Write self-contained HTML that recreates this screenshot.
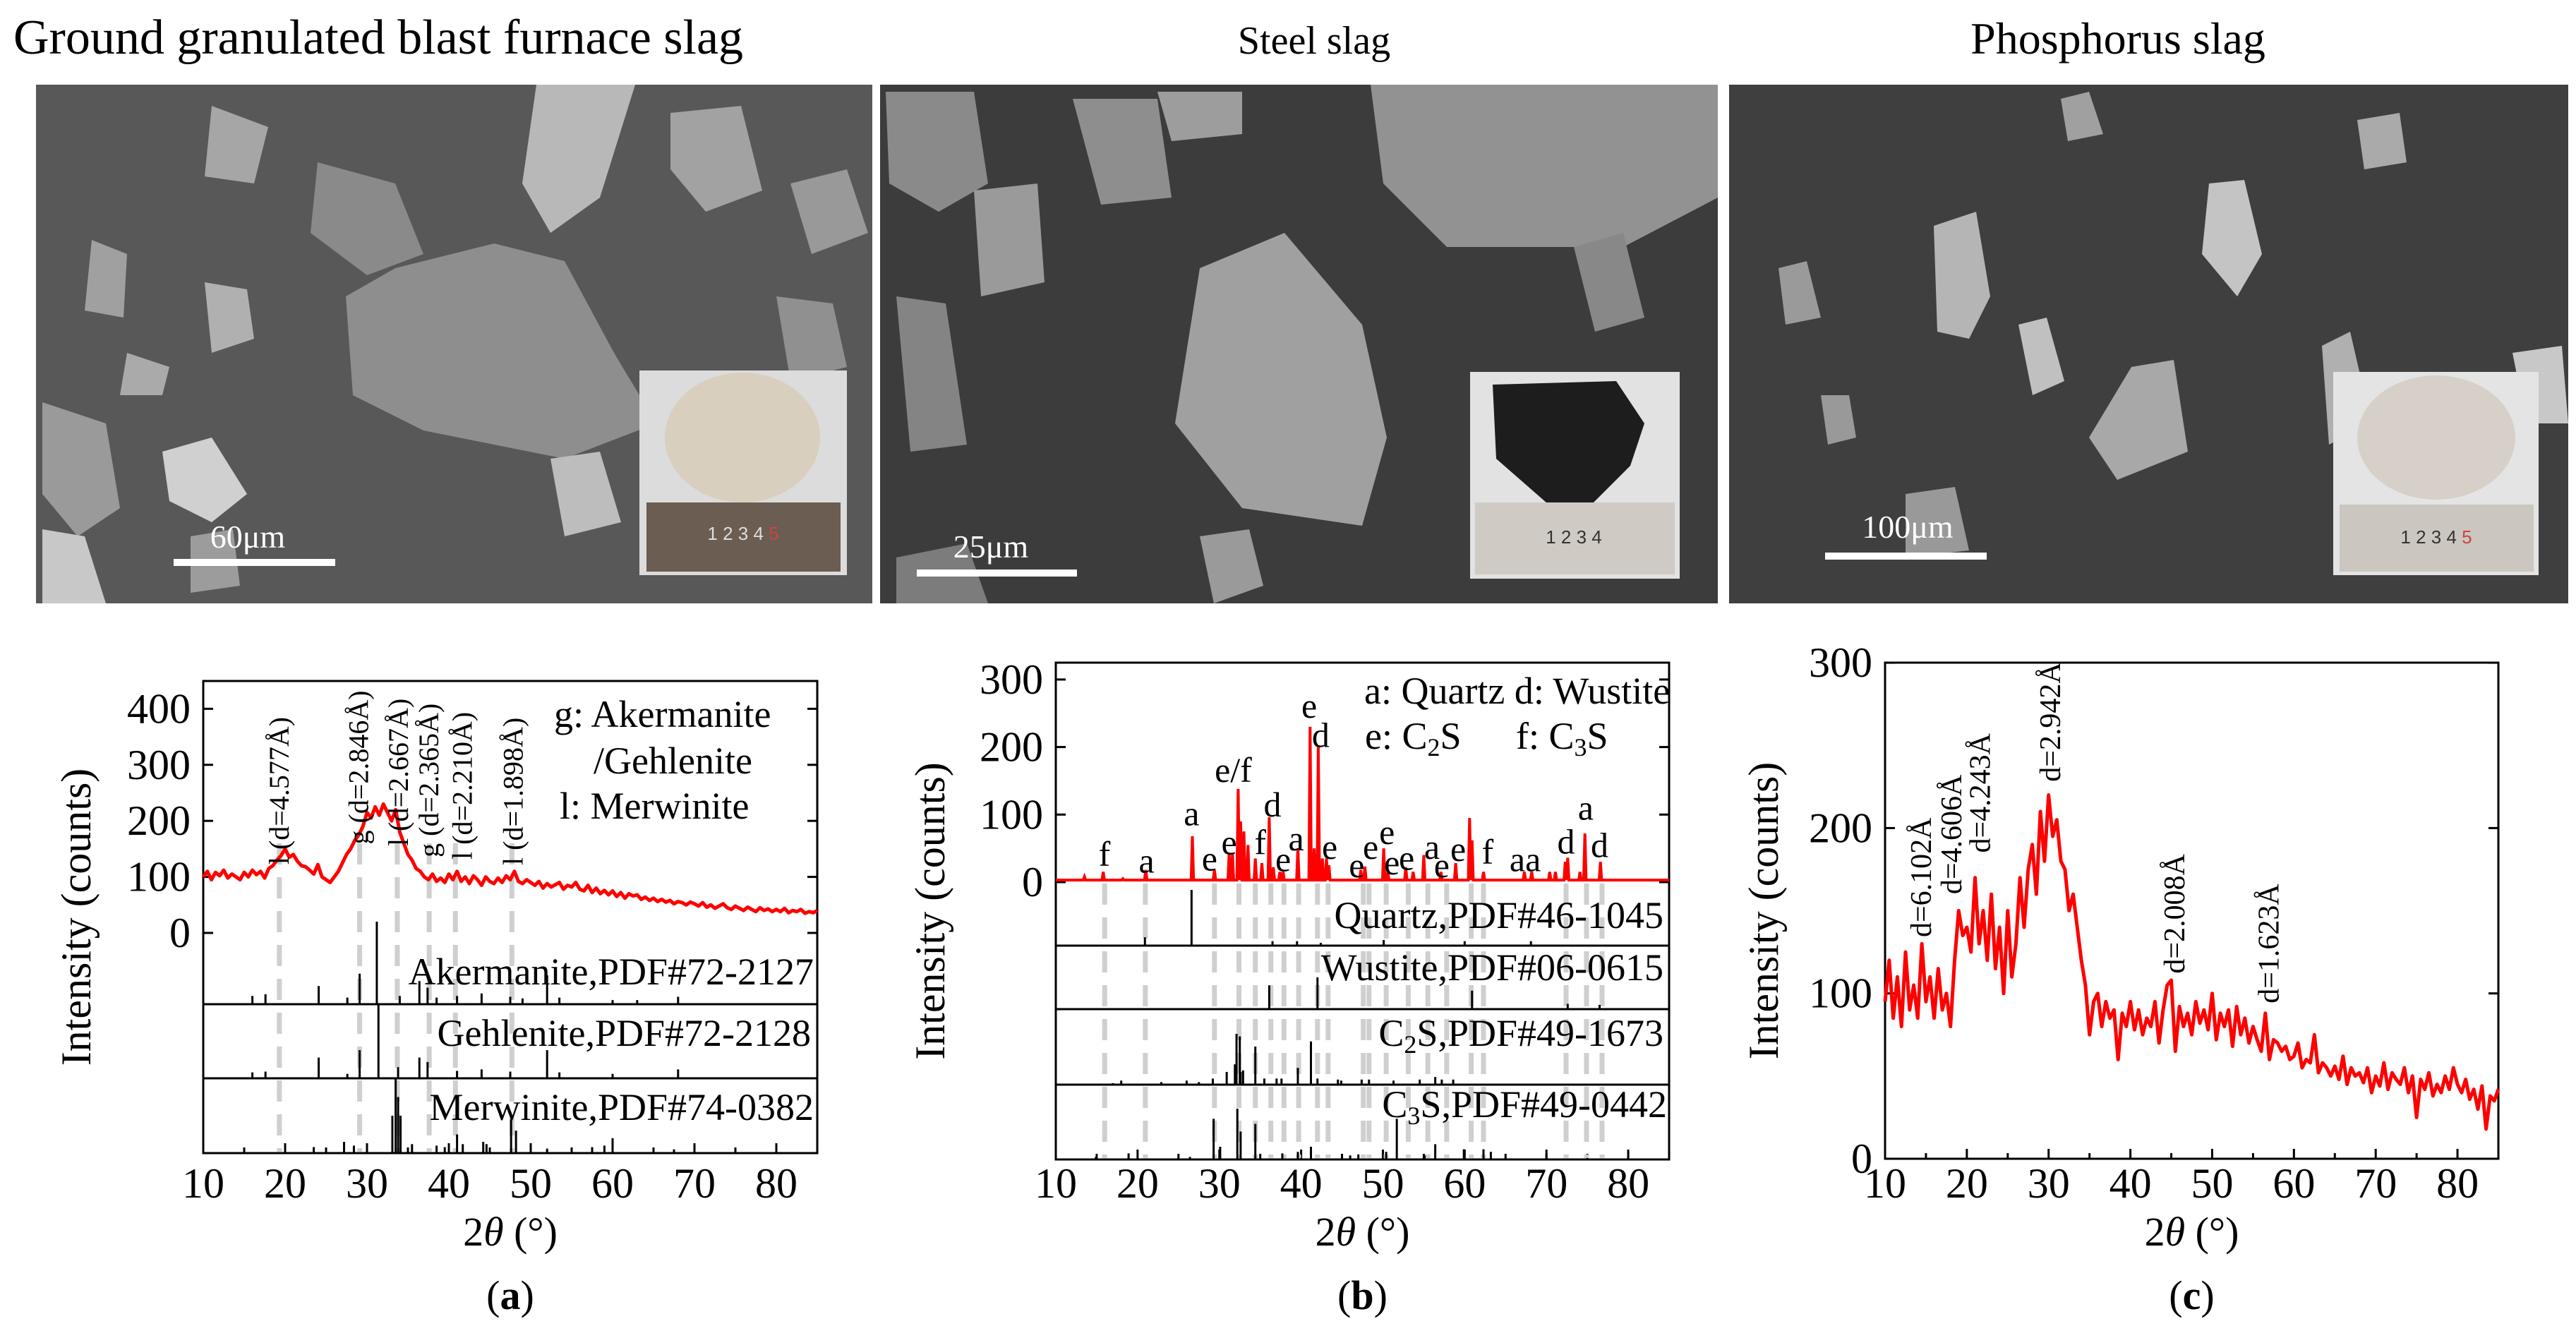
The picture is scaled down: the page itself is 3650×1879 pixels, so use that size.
<!DOCTYPE html>
<html><head><meta charset="utf-8"><style>
html,body{margin:0;padding:0;background:#fff;}
svg{display:block;font-family:"Liberation Serif",serif;}
</style></head><body>
<svg id="fig" width="3650" height="1879" viewBox="0 0 3650 1879" xmlns="http://www.w3.org/2000/svg">
<rect x="0" y="0" width="3650" height="1879" fill="#fff"/>
<!-- titles -->
<text x="536" y="76" font-size="70" text-anchor="middle">Ground granulated blast furnace slag</text>
<text x="1862" y="76" font-size="56" text-anchor="middle">Steel slag</text>
<text x="3001" y="76" font-size="64" text-anchor="middle">Phosphorus slag</text>

<!-- SEM panel 1 -->
<g>
<rect x="51" y="120" width="1185" height="735" fill="#585858"/>
<polygon points="560,380 700,345 800,370 870,500 930,600 800,650 600,610 500,560 490,420" fill="#8e8e8e"/>
<polygon points="760,120 900,120 850,280 780,330 740,260" fill="#b8b8b8"/>
<polygon points="450,230 560,260 600,360 520,390 440,330" fill="#8a8a8a"/>
<polygon points="300,150 380,180 360,260 290,250" fill="#a6a6a6"/>
<polygon points="130,340 180,360 175,450 120,440" fill="#a0a0a0"/>
<polygon points="290,400 350,410 360,480 300,500" fill="#b0b0b0"/>
<polygon points="60,570 150,600 170,720 110,760 60,700" fill="#9a9a9a"/>
<polygon points="60,750 120,760 150,855 60,855" fill="#c8c8c8"/>
<polygon points="230,640 300,620 350,700 300,740 240,710" fill="#d0d0d0"/>
<polygon points="950,160 1050,150 1080,270 1000,300 950,240" fill="#a2a2a2"/>
<polygon points="1120,260 1200,240 1230,330 1150,360" fill="#999"/>
<polygon points="780,650 850,640 880,740 800,760" fill="#bdbdbd"/>
<polygon points="1100,420 1180,430 1200,520 1120,540" fill="#909090"/>
<polygon points="180,500 240,520 230,560 170,560" fill="#aaa"/>
<polygon points="270,760 330,750 340,830 270,840" fill="#9c9c9c"/>
<rect x="906" y="525" width="294" height="290" fill="#dcdcdc"/>
<ellipse cx="1052" cy="620" rx="110" ry="92" fill="#d9cfbf"/>
<rect x="916" y="712" width="275" height="98" fill="#6b5d52"/>
<text x="1053" y="765" font-size="26" fill="#ddd" text-anchor="middle" font-family="Liberation Sans,sans-serif">1  2  3  4  <tspan fill="#c44">5</tspan></text>
<rect x="246" y="792" width="229" height="10" fill="#fff"/>
<text x="351" y="776" font-size="46" fill="#fff" text-anchor="middle">60μm</text>
</g>

<!-- SEM panel 2 -->
<g>
<rect x="1247" y="120" width="1187" height="735" fill="#3c3c3c"/>
<polygon points="1700,380 1820,330 1930,460 1965,620 1930,745 1760,720 1665,600" fill="#a0a0a0"/>
<polygon points="1942,120 2434,120 2434,280 2300,350 2050,350 1960,260" fill="#929292"/>
<polygon points="1255,130 1380,130 1400,260 1330,300 1260,260" fill="#8a8a8a"/>
<polygon points="1520,140 1640,140 1660,280 1560,290" fill="#8e8e8e"/>
<polygon points="1380,270 1470,260 1480,400 1390,420" fill="#9a9a9a"/>
<polygon points="1270,420 1340,430 1370,630 1290,640" fill="#848484"/>
<polygon points="1640,130 1760,130 1760,190 1660,200" fill="#9d9d9d"/>
<polygon points="2230,350 2300,330 2330,450 2260,470" fill="#888"/>
<polygon points="1270,790 1370,770 1400,855 1270,855" fill="#7c7c7c"/>
<polygon points="1700,760 1770,750 1790,830 1720,855" fill="#9a9a9a"/>
<rect x="2083" y="527" width="297" height="293" fill="#e2e2e2"/>
<polygon points="2115,545 2290,540 2330,600 2310,660 2250,720 2200,720 2120,650" fill="#1d1d1d"/>
<rect x="2090" y="712" width="283" height="102" fill="#cfcac4"/>
<text x="2230" y="770" font-size="26" fill="#333" text-anchor="middle" font-family="Liberation Sans,sans-serif">1  2  3  4</text>
<rect x="1299" y="807" width="227" height="10" fill="#fff"/>
<text x="1404" y="790" font-size="46" fill="#fff" text-anchor="middle">25μm</text>
</g>

<!-- SEM panel 3 -->
<g>
<rect x="2450" y="120" width="1189" height="735" fill="#3f3f3f"/>
<polygon points="2740,320 2800,300 2820,420 2790,480 2745,470" fill="#b5b5b5"/>
<polygon points="3130,260 3180,255 3205,360 3170,420 3120,360" fill="#c4c4c4"/>
<polygon points="2860,460 2900,450 2925,540 2880,560" fill="#c0c0c0"/>
<polygon points="3020,520 3080,510 3100,640 3000,680 2960,620" fill="#a8a8a8"/>
<polygon points="3290,490 3330,470 3360,600 3300,630" fill="#b0b0b0"/>
<polygon points="2520,380 2560,370 2580,450 2530,460" fill="#9a9a9a"/>
<polygon points="2700,700 2770,690 2790,780 2700,790" fill="#999"/>
<polygon points="2580,560 2620,560 2630,620 2590,630" fill="#999"/>
<polygon points="3340,170 3400,160 3410,230 3350,240" fill="#aaa"/>
<polygon points="3560,500 3630,490 3639,600 3580,600" fill="#c8c8c8"/>
<polygon points="2920,140 2960,130 2980,190 2930,200" fill="#a0a0a0"/>
<rect x="3306" y="527" width="291" height="288" fill="#e4e4e4"/>
<ellipse cx="3452" cy="620" rx="112" ry="88" fill="#d6d0c8"/>
<rect x="3315" y="715" width="275" height="95" fill="#cbc6c0"/>
<text x="3452" y="770" font-size="26" fill="#333" text-anchor="middle" font-family="Liberation Sans,sans-serif">1  2  3  4  <tspan fill="#c44">5</tspan></text>
<rect x="2586" y="783" width="229" height="10" fill="#fff"/>
<text x="2703" y="762" font-size="46" fill="#fff" text-anchor="middle">100μm</text>
</g>
<g id="charts"></g>
</svg>
<script>
// ---------- DATA ----------
const xrdA_start = 10, xrdA_step = 0.5;
const xrdA_counts = [100,110,95,108,102,112,98,105,100,95,
108,100,112,104,110,98,115,120,130,138,
150,135,140,128,120,118,112,105,122,100,
95,90,100,110,125,140,150,165,175,190,
215,205,225,210,230,215,200,220,180,160,
140,130,115,110,100,95,105,92,98,90,
105,95,110,92,100,88,102,95,85,100,
92,88,98,90,102,95,110,92,88,95,
90,85,92,80,88,82,86,90,78,85,
82,90,78,75,85,72,80,70,76,68,
75,65,72,62,70,66,68,60,64,58,
62,56,60,55,58,52,56,54,50,55,
52,48,54,46,50,44,48,52,45,42,
48,44,40,46,42,38,45,40,43,38,
42,38,44,36,40,38,42,35,38,36,40];
const xrdC_start = 10, xrdC_step = 0.5;
const xrdC_counts = [95,120,85,110,80,125,90,105,85,130,
95,110,85,115,90,100,80,120,150,135,
140,125,170,130,150,120,160,115,140,100,
150,110,130,170,140,175,190,160,210,180,
220,195,205,180,175,150,160,140,120,105,
75,95,100,80,95,85,90,60,88,80,
95,78,90,75,85,80,95,70,90,105,
108,65,92,80,88,75,95,82,90,78,
100,72,88,80,90,68,92,75,85,70,
80,72,65,88,60,72,70,65,68,60,
62,70,55,60,58,75,52,58,55,50,
56,48,62,45,55,50,52,46,55,40,
50,44,58,42,52,48,45,55,40,50,
25,48,42,52,38,45,40,50,42,55,
45,40,48,36,42,30,44,18,38,35,42];
const xrdB_peakPos = [13.5,15.8,18.2,21,26.7,29.4,31.2,31.6,32.3,32.6,33,33.5,34.4,35.2,36.1,36.6,37.4,37.8,39.6,41.1,41.6,42.1,42.6,43.1,43.4,47.3,47.8,50.1,50.6,52.8,53.7,55,57.1,58.9,60.6,60.9,62.3,67.3,68.2,70.4,71.1,72.3,72.6,74.1,74.7,76.6];
const xrdB_peakH   = [8,15,5,18,68,18,42,42,138,90,75,55,35,28,96,22,15,15,50,230,50,200,35,35,25,18,23,50,15,22,15,40,15,28,95,62,15,15,15,15,15,30,36,15,72,30];
const xrdB_baseline = 3;
const yTicksA = [0,100,200,300,400];
const yTicksB = [0,100,200,300];
const yTicksC = [0,100,200,300];
const xTicks = [10,20,30,40,50,60,70,80];
const akermPos = [16,17.6,24.1,27.6,29.1,31.2,34,36.4,37.4,38.5,41,44,47.5,49,52,53.5,60,63,68];
const akermH   = [10,12,22,8,37,100,10,28,20,8,10,13,9,7,35,8,5,5,9];
const gehlPos  = [16,17.6,24.1,27.6,29.1,31.4,33.8,36.4,37.4,41,44,47.5,52,53.5,60,68];
const gehlH    = [8,9,28,6,38,100,15,28,22,10,12,9,38,8,6,12];
const merwPos  = [23.5,27.2,28.4,33.1,33.5,33.8,34.1,35.5,38.5,39.5,41,41.7,44.2,44.6,47.6,48.2,52,57.5,59,60,67.5];
const merwH    = [8,15,10,50,100,75,50,12,10,8,25,12,15,12,45,30,6,8,10,20,5];
const quartzPos = [20.9,26.6,36.5,39.5,42.4,50.1,60,68.1];
const quartzH   = [15,100,8,8,5,10,8,8];
const wustPos = [36.1,42,60.9,72.6,76.5];
const wustH   = [45,60,35,10,8];
const c2sPos = [17,18,22.9,26,27.5,29.2,30.9,31.9,32.1,32.5,32.6,32.9,34.4,35.5,37,37.6,39.6,41.2,42,44.5,44.9,47.4,48.3,51.3,54.5,56.4,57.2,58.6];
const c2sH   = [3,8,5,8,5,12,25,40,100,95,25,28,75,12,12,12,33,85,12,10,8,10,10,8,10,15,10,10];
const c3sPos = [14.9,18.9,26.4,29.3,30.1,32.2,32.6,34.4,37.7,39.6,41.2,46,47,50.4,51.7,55.1,56.4,59.9,62.3,63.2,70,80];
const c3sH   = [5,12,5,80,25,100,55,70,12,15,25,8,10,15,80,8,30,20,20,15,12,15];
const dashA = [19.3,29.1,33.7,37.6,40.8,47.7];
const dashB = [15.97,20.95,29.4,32.4,34.4,36.3,37.9,39.7,42.0,43.3,47.6,48.3,50.4,53.1,55.5,57.8,60.8,62.3,72.4,74.9,76.8];
const annA_text = ["l (d=4.577Å)","g (d=2.846Å)","l (d=2.667Å)","g (d=2.365Å)","l (d=2.210Å)","l (d=1.898Å)"];
const annA_x = [19.3,29.0,33.9,37.6,41.7,47.9];
const annA_y = [122,158,155,135,131,121];
const annB_text = ["f","a","a","e","e","e/f","f","d","e","a","e","d","e","e","e","e","e","e","a","e","e","f","aa","d","a","d"];
const annB_x = [15.95,21.1,26.6,28.8,31.2,31.7,35,36.5,37.8,39.4,40.99,42.4,43.5,46.8,48.5,50.5,51.1,52.9,56,57.2,59.2,62.8,67.4,72.4,74.8,76.5];
const annB_y = [42,32,102,35,59,166,59,115,34,65,261,218,52,25,52,74,29,36,52,25,49,45,34,60,110,55];
const annC_text = ["d=6.102Å","d=4.606Å","d=4.243Å","d=2.942Å","d=2.008Å","d=1.623Å"];
const annC_x = [14.4,18.1,21.6,30.2,45.4,56.9];
const annC_y = [134,160,185,228,112,94];

// ---------- DRAW ----------
const NS='http://www.w3.org/2000/svg';
const root=document.getElementById('charts');
function mk(tag,attrs,parent){const e=document.createElementNS(NS,tag);for(const k in attrs)e.setAttribute(k,attrs[k]);(parent||root).appendChild(e);return e;}
function axisX(P){return v=>P.x0+(v-10)/75*(P.x1-P.x0);}
function axisY(P){return v=>P.yz-v*P.k;}

const PA={x0:288,x1:1158,top:965,bot:1634,yz:1322,k:0.794,name:'a'};
const PB={x0:1496,x1:2365,top:939,bot:1643,yz:1250,k:0.957,name:'b'};
const PC={x0:2671,x1:3540,top:939,bot:1642,yz:1642,k:2.343,name:'c'};

function frame(P,yt,label){
  const g=mk('g',{});
  
  
  const X=axisX(P),Y=axisY(P);
  const r=mk('rect',{x:P.x0,y:P.top,width:P.x1-P.x0,height:P.bot-P.top,fill:'none',stroke:'#000','stroke-width':3},g);
  
  
  yt.forEach(v=>{
    const t=mk('text',{x:P.x0-18,y:Y(v)+20,'font-size':60,'text-anchor':'end'},g);
    t.textContent=v;
    
    
    mk('line',{x1:P.x0,x2:P.x0+14,y1:Y(v),y2:Y(v),stroke:'#000','stroke-width':3},g);
    mk('line',{x1:P.x1,x2:P.x1-14,y1:Y(v),y2:Y(v),stroke:'#000','stroke-width':3},g);
  });
  xTicks.forEach(v=>{
    const t=mk('text',{x:X(v),y:1697,'font-size':60,'text-anchor':'middle'},g);
    t.textContent=v;
    
    
    mk('line',{x1:X(v),x2:X(v),y1:P.bot,y2:P.bot-14,stroke:'#000','stroke-width':3},g);
    if(v<80) mk('line',{x1:X(v+5),x2:X(v+5),y1:P.bot,y2:P.bot-8,stroke:'#000','stroke-width':3},g);
  });
  const xl=mk('text',{x:(P.x0+P.x1)/2,y:1765,'font-size':58,'text-anchor':'middle'},g);
  xl.innerHTML='2<tspan font-style="italic">θ</tspan> (°)';
  
  
  const cy=(P.top+P.bot)/2;
  const yl=mk('text',{x:label,y:cy,'font-size':60,'text-anchor':'middle',transform:`rotate(-90 ${label} ${cy})`},g);
  yl.textContent='Intensity (counts)';
  
  
  const pl=mk('text',{x:(P.x0+P.x1)/2,y:1855,'font-size':58,'text-anchor':'middle'},g);
  pl.innerHTML='(<tspan font-weight="bold">'+P.name+'</tspan>)';
  
  
  return g;
}

function dashes(P,list,y1,g){
  const X=axisX(P);
  list.forEach(v=>{
    const l=mk('line',{x1:X(v),x2:X(v),y1:y1,y2:P.bot-2,stroke:'#cfcfcf','stroke-width':7,'stroke-dasharray':'30 18'},g);
    
    
  });
}
function sticks(P,pos,h,base,scale,g,nm){
  const X=axisX(P);
  pos.forEach((v,i)=>{
    const l=mk('line',{x1:X(v),x2:X(v),y1:base,y2:base-h[i]*scale,stroke:'#000','stroke-width':3},g);
    
    
  });
}
function divider(P,y,g){
  const l=mk('line',{x1:P.x0,x2:P.x1,y1:y,y2:y,stroke:'#000','stroke-width':3},g);
  
  
}
function label(x,y,txt,size,anchor,g,nm){
  const t=mk('text',{x:x,y:y,'font-size':size,'text-anchor':anchor},g);
  t.innerHTML=txt;
  
  
  return t;
}
function rotLabel(x,y,txt,size,g,nm){
  const t=mk('text',{x:x,y:y,'font-size':size,transform:`rotate(-90 ${x} ${y})`},g);
  t.textContent=txt;
  
  
}
function curve(P,start,step,vals,g,nm){
  const X=axisX(P),Y=axisY(P);
  const d=vals.map((v,i)=>(i?'L':'M')+X(start+i*step).toFixed(1)+','+Y(v).toFixed(1)).join('');
  const p=mk('path',{d:d,fill:'none',stroke:'#f00','stroke-width':5,'stroke-linejoin':'round'},g);
  
  
}

// Panel A
const gA=frame(PA,yTicksA,128);
dashes(PA,dashA,1195,gA);
divider(PA,1423,gA);divider(PA,1528,gA);
sticks(PA,akermPos,akermH,1423,1.17,gA,'akermanite');
sticks(PA,gehlPos,gehlH,1528,1.05,gA,'gehlenite');
sticks(PA,merwPos,merwH,1634,1.06,gA,'merwinite');
curve(PA,xrdA_start,xrdA_step,xrdA_counts,gA,'xrd-curve-ggbfs');
annA_text.forEach((s,i)=>rotLabel(axisX(PA)(annA_x[i])+13,axisY(PA)(annA_y[i]),s,40,gA,'peak-annotation-a'));
label(785,1030,'g: Akermanite',54,'start',gA,'legend-akermanite');
label(841,1096,'/Gehlenite',54,'start',gA,'legend-gehlenite');
label(793,1160,'l: Merwinite',54,'start',gA,'legend-merwinite');
label(1153,1395,'Akermanite,PDF#72-2127',54,'end',gA,'pattern-label-akermanite');
label(1149,1482,'Gehlenite,PDF#72-2128',54,'end',gA,'pattern-label-gehlenite');
label(1153,1587,'Merwinite,PDF#74-0382',54,'end',gA,'pattern-label-merwinite');

// Panel B
const gB=frame(PB,yTicksB,1338);
dashes(PB,dashB,1252,gB);
divider(PB,1340,gB);divider(PB,1430,gB);divider(PB,1537,gB);
sticks(PB,quartzPos,quartzH,1340,0.79,gB,'quartz');
sticks(PB,wustPos,wustH,1430,0.75,gB,'wustite');
sticks(PB,c2sPos,c2sH,1537,0.72,gB,'c2s');
sticks(PB,c3sPos,c3sH,1643,0.72,gB,'c3s');
(function(){
  const X=axisX(PB),Y=axisY(PB);
  let d='M'+X(10)+','+Y(xrdB_baseline);
  xrdB_peakPos.forEach((v,i)=>{
    d+='L'+X(v-0.15).toFixed(1)+','+Y(xrdB_baseline)+'L'+X(v).toFixed(1)+','+Y(xrdB_peakH[i]).toFixed(1)+'L'+X(v+0.15).toFixed(1)+','+Y(xrdB_baseline);
  });
  d+='L'+X(85)+','+Y(xrdB_baseline);
  const p=mk('path',{d:d,fill:'none',stroke:'#f00','stroke-width':4},gB);
  
  
})();
annB_text.forEach((s,i)=>{
  label(axisX(PB)(annB_x[i]),axisY(PB)(annB_y[i])+17,s,50,'middle',gB,'peak-letter-b');
});
label(1933,997,'a: Quartz d: Wustite',54,'start',gB,'legend-quartz-wustite');
label(1934,1061,'e: C<tspan font-size="36" dy="10">2</tspan><tspan dy="-10">S</tspan>',54,'start',gB,'legend-c2s');
label(2148,1061,'f: C<tspan font-size="36" dy="10">3</tspan><tspan dy="-10">S</tspan>',54,'start',gB,'legend-c3s');
label(2357,1315,'Quartz,PDF#46-1045',54,'end',gB,'pattern-label-quartz');
label(2357,1389,'Wustite,PDF#06-0615',54,'end',gB,'pattern-label-wustite');
label(2357,1482,'C<tspan font-size="36" dy="10">2</tspan><tspan dy="-10">S,PDF#49-1673</tspan>',54,'end',gB,'pattern-label-c2s');
label(2362,1583,'C<tspan font-size="36" dy="10">3</tspan><tspan dy="-10">S,PDF#49-0442</tspan>',54,'end',gB,'pattern-label-c3s');

// Panel C
const gC=frame(PC,yTicksC,2519);
curve(PC,xrdC_start,xrdC_step,xrdC_counts,gC,'xrd-curve-phosphorus-slag');
annC_text.forEach((s,i)=>rotLabel(axisX(PC)(annC_x[i])+14,axisY(PC)(annC_y[i]),s,42,gC,'peak-annotation-c'));
</script>
</body></html>
